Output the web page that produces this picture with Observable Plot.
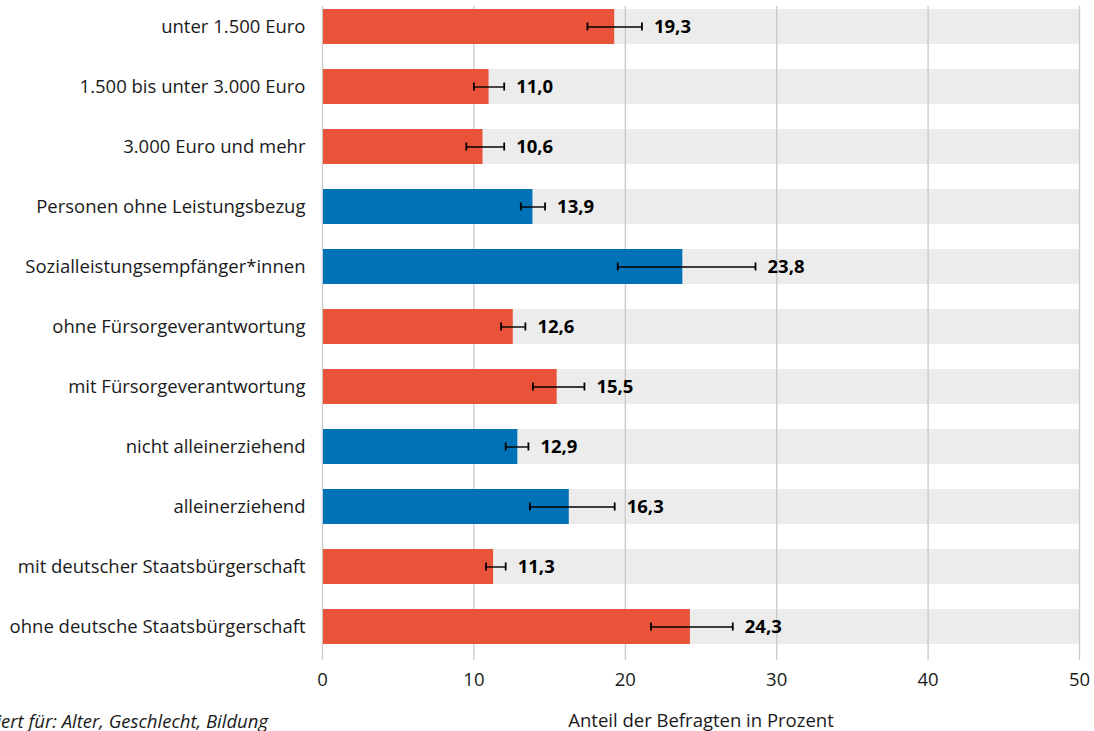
<!DOCTYPE html>
<html>
<head>
<meta charset="utf-8">
<script src="https://cdn.jsdelivr.net/npm/d3@7"></script>
<script src="https://cdn.jsdelivr.net/npm/@observablehq/plot@0.6"></script>
<style>
  html, body { margin: 0; padding: 0; background: #fff; overflow: hidden; }
  #wrap { position: relative; width: 1094px; height: 731px; }
  #caption { position: absolute; right: 826px; top: 708px; white-space: nowrap;
    font-family: "Open Sans", sans-serif; font-style: italic; font-size: 18.5px; color: #1a1a1a; }
</style>
</head>
<body>
<div id="wrap"><div id="chart"></div><div id="caption">Kontrolliert für: Alter, Geschlecht, Bildung</div></div>
<script>
const categories = [
  "unter 1.500 Euro",
  "1.500 bis unter 3.000 Euro",
  "3.000 Euro und mehr",
  "Personen ohne Leistungsbezug",
  "Sozialleistungsempfänger*innen",
  "ohne Fürsorgeverantwortung",
  "mit Fürsorgeverantwortung",
  "nicht alleinerziehend",
  "alleinerziehend",
  "mit deutscher Staatsbürgerschaft",
  "ohne deutsche Staatsbürgerschaft"
];
const values = [19.3, 11.0, 10.6, 13.9, 23.8, 12.6, 15.5, 12.9, 16.3, 11.3, 24.3];
const lower  = [17.5, 10.0, 9.5, 13.1, 19.5, 11.8, 13.9, 12.1, 13.7, 10.8, 21.7];
const upper  = [21.1, 12.0, 12.0, 14.7, 28.6, 13.4, 17.3, 13.6, 19.3, 12.1, 27.1];
const groups = ["a", "a", "a", "b", "b", "a", "a", "b", "b", "a", "a"];
const xTicks = [0, 10, 20, 30, 40, 50];

const data = categories.map((c, i) => ({cat: c, value: values[i], lo: lower[i], hi: upper[i], group: groups[i]}));
const fmt = v => v.toFixed(1).replace(".", ",");

const chart = Plot.plot({
  width: 1094,
  height: 731,
  marginLeft: 322,
  marginRight: 15,
  marginTop: 6,
  marginBottom: 71,
  style: {fontFamily: "'Open Sans', sans-serif", fontSize: "18.5px", color: "#1a1a1a", background: "#fff"},
  x: {domain: [0, 50], ticks: xTicks},
  y: {domain: categories, range: [6, 646], paddingInner: 0.42, paddingOuter: 0},
  color: {domain: ["a", "b"], range: ["#e8533a", "#0072b5"]},
  marks: [
    Plot.barX(data, {y: "cat", x1: 0, x2: 50, fill: "#ebeceb"}),
    Plot.ruleX(xTicks, {stroke: "#c9c9c9", strokeWidth: 1.3}),
    Plot.barX(data, {y: "cat", x1: 0, x2: "value", fill: "group", insetLeft: 1}),
    Plot.ruleY(data, {y: "cat", x1: "lo", x2: "hi", stroke: "#000", strokeWidth: 1.4}),
    Plot.tickX(data, {x: "lo", y: "cat", stroke: "#000", strokeWidth: 1.8, insetTop: 13.5, insetBottom: 13.5}),
    Plot.tickX(data, {x: "hi", y: "cat", stroke: "#000", strokeWidth: 1.8, insetTop: 13.5, insetBottom: 13.5}),
    Plot.text(data, {y: "cat", x: "hi", text: d => fmt(d.value), textAnchor: "start", dx: 12, fontWeight: "bold", fontSize: 18.5, fill: "#000"}),
    Plot.axisY({tickSize: 0, tickPadding: 17, label: null, fontSize: 18.5}),
    Plot.axisX({ticks: xTicks, tickSize: 0, tickPadding: 12, label: "Anteil der Befragten in Prozent", labelAnchor: "center", labelArrow: "none", labelOffset: 66, fontSize: 18.5})
  ]
});
document.getElementById("chart").appendChild(chart);
</script>
</body>
</html>
